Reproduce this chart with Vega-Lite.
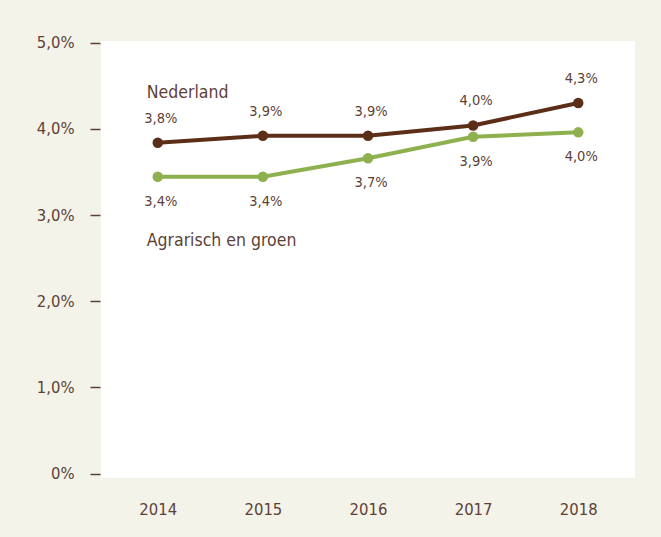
{
  "$schema": "https://vega.github.io/schema/vega-lite/v6.json",
  "width": 534,
  "height": 437,
  "autosize": {"type": "none"},
  "padding": {"left": 101, "top": 41, "right": 26, "bottom": 59},
  "background": "#f3f3e9",
  "config": {
    "view": {"fill": "white", "stroke": null},
    "font": "DejaVu Sans Condensed",
    "text": {"font": "DejaVu Sans Condensed", "color": "#5e4136"}
  },
  "datasets": {
    "series": [
      {"year": "2014", "series": "Nederland", "value": 3.84},
      {"year": "2015", "series": "Nederland", "value": 3.92},
      {"year": "2016", "series": "Nederland", "value": 3.92},
      {"year": "2017", "series": "Nederland", "value": 4.04},
      {"year": "2018", "series": "Nederland", "value": 4.30},
      {"year": "2014", "series": "Agrarisch en groen", "value": 3.445},
      {"year": "2015", "series": "Agrarisch en groen", "value": 3.445},
      {"year": "2016", "series": "Agrarisch en groen", "value": 3.66},
      {"year": "2017", "series": "Agrarisch en groen", "value": 3.91},
      {"year": "2018", "series": "Agrarisch en groen", "value": 3.96}
    ],
    "names": [
      {"year": "2014", "value": 4.42, "name": "Nederland"},
      {"year": "2014", "value": 2.70, "name": "Agrarisch en groen"}
    ]
  },
  "encoding": {
    "x": {
      "field": "year",
      "type": "ordinal",
      "scale": {"type": "point", "padding": 0.54},
      "axis": {
        "title": null,
        "domain": false,
        "ticks": false,
        "labelAngle": 0,
        "labelPadding": 23,
        "labelFontSize": 16.5,
        "labelColor": "#5e4136",
        "labelFont": "DejaVu Sans Condensed"
      }
    },
    "y": {
      "field": "value",
      "type": "quantitative",
      "scale": {"domain": [-0.05, 5.02], "nice": false, "zero": false},
      "axis": {
        "title": null,
        "values": [0, 1, 2, 3, 4, 5],
        "labelExpr": "datum.value == 0 ? '0%' : replace(format(datum.value, '.1f'), '.', ',') + '%'",
        "grid": false,
        "domain": false,
        "ticks": true,
        "tickSize": 10,
        "tickWidth": 1.5,
        "tickColor": "#5e4136",
        "offset": 1,
        "labelPadding": 16,
        "labelFontSize": 16.5,
        "labelColor": "#5e4136",
        "labelFont": "DejaVu Sans Condensed"
      }
    }
  },
  "layer": [
    {
      "data": {"name": "series"},
      "mark": {"type": "line", "strokeWidth": 4},
      "encoding": {
        "color": {
          "field": "series",
          "type": "nominal",
          "scale": {"domain": ["Nederland", "Agrarisch en groen"], "range": ["#5c2e17", "#8fb04f"]},
          "legend": null
        }
      }
    },
    {
      "data": {"name": "series"},
      "mark": {"type": "point", "filled": true, "size": 110, "opacity": 1},
      "encoding": {
        "color": {
          "field": "series",
          "type": "nominal",
          "scale": {"domain": ["Nederland", "Agrarisch en groen"], "range": ["#5c2e17", "#8fb04f"]},
          "legend": null
        }
      }
    },
    {
      "data": {"name": "series"},
      "transform": [
        {"filter": "datum.series == 'Nederland'"},
        {"calculate": "replace(format(datum.value, '.1f'), '.', ',') + '%'", "as": "label"}
      ],
      "mark": {"type": "text", "dy": -24, "dx": 3, "fontSize": 14.5, "baseline": "middle"},
      "encoding": {"text": {"field": "label"}}
    },
    {
      "data": {"name": "series"},
      "transform": [
        {"filter": "datum.series == 'Agrarisch en groen'"},
        {"calculate": "replace(format(datum.value, '.1f'), '.', ',') + '%'", "as": "label"}
      ],
      "mark": {"type": "text", "dy": 25, "dx": 3, "fontSize": 14.5, "baseline": "middle"},
      "encoding": {"text": {"field": "label"}}
    },
    {
      "data": {"name": "names"},
      "mark": {"type": "text", "align": "left", "dx": -11, "fontSize": 17.5, "baseline": "middle"},
      "encoding": {"text": {"field": "name"}}
    }
  ]
}
